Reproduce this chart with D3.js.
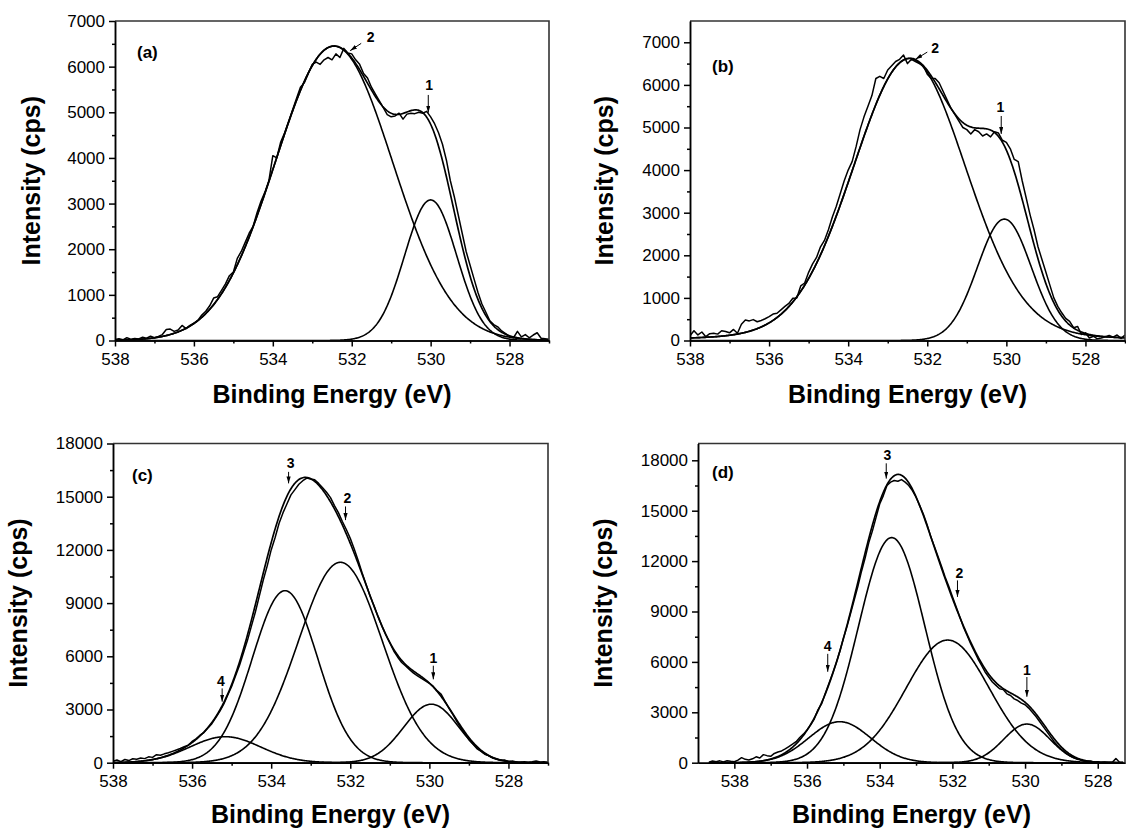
<!DOCTYPE html>
<html>
<head>
<meta charset="utf-8">
<script src="https://cdn.jsdelivr.net/npm/d3@7"></script>
<style>
  body { margin: 0; background: #fff; }
  svg { display: block; font-family: "Liberation Sans", Arial, sans-serif; }
</style>
</head>
<body>
<svg id="chart" width="1126" height="834"></svg>
<script>
// measured O 1s spectra, one value every 0.1 eV going down from the first energy
var firstA = 538.0;
var countsA = [20,40,15,60,30,45,35,70,50,95,
  60,90,130,240,250,200,230,330,260,330,
  380,440,560,640,760,930,960,1100,1240,1420,
  1500,1800,1950,2150,2350,2500,2800,3050,3250,3500,
  4050,4000,4350,4550,4800,5050,5300,5550,5650,5850,
  6050,6100,6050,6150,6200,6150,6280,6200,6400,6300,
  6280,6150,6050,5850,5750,5550,5400,5250,5100,4950,
  4900,4920,4980,4850,4960,4980,4970,5000,4980,5020,
  4900,4750,4550,4300,3950,3500,3150,2750,2350,1950,
  1650,1350,1050,800,620,430,350,300,210,150,
  90,60,200,80,130,60,120,170,50,40,
  30];

var firstB = 538.0;
var countsB = [110,230,130,200,90,160,170,150,230,210,
  180,260,170,380,480,460,490,440,470,510,
  560,620,640,720,800,870,990,1000,1280,1350,
  1600,1800,1950,2200,2350,2600,2900,3150,3450,3750,
  4000,4200,4550,4950,5250,5500,5750,6150,6200,6150,
  6350,6450,6550,6600,6700,6500,6600,6550,6500,6450,
  6250,6150,6150,6050,5850,5650,5450,5300,5150,5000,
  4950,4850,4950,4900,4800,4850,4780,4900,4870,4700,
  4650,4500,4250,4200,3750,3350,2950,2600,2200,1900,
  1600,1300,1000,800,650,520,450,300,330,140,
  180,60,100,40,60,90,120,80,130,50,
  130];

var firstC = 538.0;
var countsC = [80,150,60,180,120,220,200,260,230,330,
  300,450,420,500,560,640,720,800,900,980,
  1200,1350,1550,1700,1950,2200,2550,2900,3300,3800,
  4300,4900,5500,6200,6900,7700,8500,9400,10300,11100,
  12000,12700,13500,14100,14600,15100,15400,15700,15900,16050,
  16000,15950,15750,15500,15250,14950,14500,14100,13600,13150,
  12650,12050,11400,10700,10050,9400,8850,8250,7700,7200,
  6750,6300,5950,5650,5450,5250,5050,4900,4750,4620,
  4480,4300,4050,3850,3450,3050,2700,2300,1950,1620,
  1300,1050,800,650,480,400,260,190,130,150,
  60,90,40,30,60,20,50,90,40,60,
  20];

var firstD = 538.7;
var countsD = [30,100,60,110,50,120,80,60,150,300,
  200,160,230,350,280,480,420,380,550,640,
  700,820,960,1100,1250,1500,1700,1950,2250,2600,
  3150,3500,4100,4700,5300,5900,6600,7400,8100,8900,
  9700,10500,11400,12200,13100,13800,14600,15400,15900,16500,
  16700,16800,16750,16850,16700,16500,16200,15800,15300,14800,
  14200,13500,12900,12300,11700,11050,10500,9900,9300,8700,
  8100,7600,7100,6650,6200,5800,5400,5100,4800,4600,
  4400,4350,4100,4000,3800,3700,3550,3450,3250,3000,
  2750,2450,2150,1850,1550,1250,1000,800,620,450,
  340,250,200,120,80,100,30,60,20,40,
  30,20,250,30,20];

// fitted components: position (eV), height (cps), fwhm (eV), lorentzian share
var peakPosA = [530.0, 532.45], peakHeightA = [3080, 6450], peakFwhmA = [1.55, 3.5], peakMixA = [0, 0];
var peakPosB = [530.05, 532.45], peakHeightB = [2850, 6620], peakFwhmB = [1.6, 3.4], peakMixB = [0, 0.1];
var peakPosC = [529.95, 532.25, 533.65, 535.16], peakHeightC = [3300, 11300, 9700, 1466],
    peakFwhmC = [1.65, 2.5, 1.95, 2.1], peakMixC = [0, 0, 0, 0];
var peakPosD = [529.95, 532.13, 533.67, 535.1], peakHeightD = [2300, 7300, 13400, 2440],
    peakFwhmD = [1.5, 2.7, 2.15, 2.0], peakMixD = [0, 0, 0, 0];

// numbered arrows: label, label position, arrow tail and tip (eV, cps)
var marksA = [
  {text: "1", lx: 530.04, ly: 5480, x1: 530.06, y1: 5380, x2: 530.06, y2: 4990},
  {text: "2", lx: 531.52, ly: 6530, x1: 531.76, y1: 6510, x2: 532.04, y2: 6350}];
var marksB = [
  {text: "1", lx: 530.15, ly: 5360, x1: 530.13, y1: 5270, x2: 530.13, y2: 4850},
  {text: "2", lx: 531.8, ly: 6740, x1: 532.0, y1: 6770, x2: 532.3, y2: 6600}];
var marksC = [
  {text: "3", lx: 533.51, ly: 16600, x1: 533.56, y1: 16400, x2: 533.56, y2: 15750},
  {text: "2", lx: 532.07, ly: 14620, x1: 532.12, y1: 14450, x2: 532.12, y2: 13680},
  {text: "1", lx: 529.9, ly: 5650, x1: 529.9, y1: 5470, x2: 529.9, y2: 4700},
  {text: "4", lx: 535.27, ly: 4330, x1: 535.24, y1: 4190, x2: 535.24, y2: 3440}];
var marksD = [
  {text: "3", lx: 533.79, ly: 18000, x1: 533.82, y1: 17820, x2: 533.82, y2: 16910},
  {text: "2", lx: 531.81, ly: 11000, x1: 531.86, y1: 10850, x2: 531.86, y2: 9870},
  {text: "1", lx: 529.95, ly: 5220, x1: 529.95, y1: 5100, x2: 529.95, y2: 3925},
  {text: "4", lx: 535.43, ly: 6620, x1: 535.43, y1: 6480, x2: 535.43, y2: 5410}];

// tick values
var energyTicks = [538, 536, 534, 532, 530, 528];
var energyMinor = [537, 535, 533, 531, 529, 527];
var countTicksAB = [0, 1000, 2000, 3000, 4000, 5000, 6000, 7000];
var countMinorAB = [500, 1500, 2500, 3500, 4500, 5500, 6500, 7500];
var countTicksCD = [0, 3000, 6000, 9000, 12000, 15000, 18000];
var countMinorCD = [1500, 4500, 7500, 10500, 13500, 16500];

var panels = [
  {name: "(a)", first: firstA, counts: countsA, pos: peakPosA, height: peakHeightA, fwhm: peakFwhmA, mix: peakMixA,
   marks: marksA, yTicks: countTicksAB, yMinor: countMinorAB, xDomain: [538, 527], yMax: 7000,
   left: 115, right: 549, top: 21, bottom: 340.5, tagX: 137, tagY: 58, yTitleX: 40, xTitleY: 403},
  {name: "(b)", first: firstB, counts: countsB, pos: peakPosB, height: peakHeightB, fwhm: peakFwhmB, mix: peakMixB,
   marks: marksB, yTicks: countTicksAB, yMinor: countMinorAB, xDomain: [538, 527], yMax: 7500,
   left: 690, right: 1125, top: 21, bottom: 340.5, tagX: 712, tagY: 72, yTitleX: 613, xTitleY: 403},
  {name: "(c)", first: firstC, counts: countsC, pos: peakPosC, height: peakHeightC, fwhm: peakFwhmC, mix: peakMixC,
   marks: marksC, yTicks: countTicksCD, yMinor: countMinorCD, xDomain: [538, 527], yMax: 18000,
   left: 113, right: 548, top: 443.5, bottom: 762.7, tagX: 132, tagY: 481, yTitleX: 27, xTitleY: 823},
  {name: "(d)", first: firstD, counts: countsD, pos: peakPosD, height: peakHeightD, fwhm: peakFwhmD, mix: peakMixD,
   marks: marksD, yTicks: countTicksCD, yMinor: countMinorCD, xDomain: [539, 527.25], yMax: 19000,
   left: 698, right: 1125, top: 443.5, bottom: 762.7, tagX: 712, tagY: 478, yTitleX: 611.5, xTitleY: 823}
];

var svg = d3.select("svg#chart");

// arrow head used by the numbered markers
svg.append("defs").append("marker")
    .attr("id", "head")
    .attr("viewBox", "0 0 10 6")
    .attr("refX", 10).attr("refY", 3)
    .attr("markerUnits", "userSpaceOnUse")
    .attr("markerWidth", 7).attr("markerHeight", 4.2)
    .attr("orient", "auto")
  .append("path").attr("d", "M0,0L10,3L0,6Z").attr("fill", "#000");

// gaussian / lorentzian mix of one fitted component
function peakValue(e, c, h, w, m)
{
  var d = e - c;
  var g = Math.exp(-4 * Math.LN2 * d * d / (w * w));
  var l = 1 / (1 + 4 * d * d / (w * w));
  return h * ((1 - m) * g + m * l);
}

function styleAxis(sel)
{
  sel.selectAll("path, line").attr("stroke", "#000").attr("stroke-width", 1.5);
  sel.selectAll("text").attr("font-size", 17).attr("fill", "#000");
}

panels.forEach(function(p, k) {

  var x = d3.scaleLinear().domain(p.xDomain).range([p.left, p.right]);
  var y = d3.scaleLinear().domain([0, p.yMax]).range([p.bottom, p.top]);
  var g = svg.append("g");

  g.append("clipPath").attr("id", "clip" + k)
    .append("rect")
    .attr("x", p.left).attr("y", p.top)
    .attr("width", p.right - p.left).attr("height", p.bottom - p.top);

  var plot = g.append("g").attr("clip-path", "url(#clip" + k + ")");

  // energies of the measured points
  var energies = p.counts.map(function(d, i) { return +(p.first - i * 0.1).toFixed(2); });
  var last = energies[energies.length - 1];
  var grid = d3.range(0, Math.round((p.first - last) / 0.02) + 1).map(function(i) { return p.first - i * 0.02; });

  var line = d3.line().x(function(d) { return x(d[0]); }).y(function(d) { return y(d[1]); });

  // fitted components
  p.pos.forEach(function(c, j) {
    var pts = grid.map(function(e) { return [e, peakValue(e, c, p.height[j], p.fwhm[j], p.mix[j])]; });
    plot.append("path").attr("d", line(pts))
      .attr("fill", "none").attr("stroke", "#000").attr("stroke-width", 1.6);
  });

  // envelope
  var env = grid.map(function(e) {
    return [e, d3.sum(p.pos, function(c, j) { return peakValue(e, c, p.height[j], p.fwhm[j], p.mix[j]); })];
  });
  plot.append("path").attr("d", line(env))
    .attr("fill", "none").attr("stroke", "#000").attr("stroke-width", 1.7);

  // measured spectrum
  var meas = p.counts.map(function(d, i) { return [energies[i], d]; });
  plot.append("path").attr("d", line(meas))
    .attr("fill", "none").attr("stroke", "#000").attr("stroke-width", 1.5)
    .attr("stroke-linejoin", "round");

  // frame on top and right
  g.append("path")
    .attr("d", "M" + p.left + "," + p.top + "H" + p.right + "V" + p.bottom)
    .attr("fill", "none").attr("stroke", "#333").attr("stroke-width", 1.6);

  // axes, major and minor ticks
  g.append("g").attr("transform", "translate(0," + p.bottom + ")")
    .call(d3.axisBottom(x).tickValues(energyMinor)
      .tickSize(3).tickSizeOuter(0).tickFormat(function() { return ""; }))
    .call(styleAxis);
  g.append("g").attr("transform", "translate(0," + p.bottom + ")")
    .call(d3.axisBottom(x).tickValues(energyTicks).tickSize(6).tickSizeOuter(0).tickPadding(6)
      .tickFormat(d3.format("d")))
    .call(styleAxis);

  g.append("g").attr("transform", "translate(" + p.left + ",0)")
    .call(d3.axisLeft(y).tickValues(p.yMinor.filter(function(v) { return v < p.yMax; }))
      .tickSize(3).tickSizeOuter(0).tickFormat(function() { return ""; }))
    .call(styleAxis);
  g.append("g").attr("transform", "translate(" + p.left + ",0)")
    .call(d3.axisLeft(y).tickValues(p.yTicks).tickSize(6).tickSizeOuter(0).tickPadding(4)
      .tickFormat(d3.format("d")))
    .call(styleAxis);

  // numbered arrows
  p.marks.forEach(function(m) {
    g.append("line")
      .attr("x1", x(m.x1)).attr("y1", y(m.y1))
      .attr("x2", x(m.x2)).attr("y2", y(m.y2))
      .attr("stroke", "#000").attr("stroke-width", 1)
      .attr("marker-end", "url(#head)");
    g.append("text")
      .attr("x", x(m.lx)).attr("y", y(m.ly))
      .attr("text-anchor", "middle")
      .attr("font-size", 14).attr("font-weight", "bold")
      .text(m.text);
  });

  // panel tag and axis titles
  g.append("text").attr("x", p.tagX).attr("y", p.tagY)
    .attr("font-size", 17).attr("font-weight", "bold").text(p.name);

  g.append("text")
    .attr("x", (p.left + p.right) / 2).attr("y", p.xTitleY)
    .attr("text-anchor", "middle")
    .attr("font-size", 25).attr("font-weight", "bold")
    .text("Binding Energy (eV)");

  g.append("text")
    .attr("transform", "translate(" + p.yTitleX + "," + ((p.top + p.bottom) / 2) + ") rotate(-90)")
    .attr("text-anchor", "middle")
    .attr("font-size", 25).attr("font-weight", "bold")
    .text("Intensity (cps)");
});
</script>
</body>
</html>
